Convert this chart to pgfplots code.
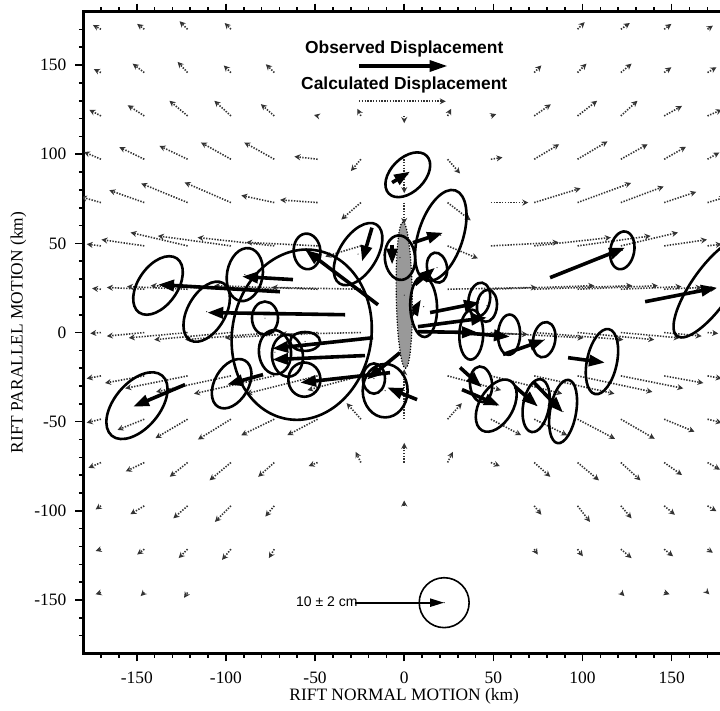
\documentclass[border=0pt]{standalone}
\usepackage{fontspec}
\setmainfont{Liberation Serif}
\setsansfont{Liberation Sans}
\usepackage{pgfplots}
\pgfplotsset{compat=1.18}
\usepackage{pgfplotstable}
\usetikzlibrary{arrows.meta}

% calculated displacement (tail x y, vector u v, km)
\pgfplotstableread{
x y u v
-170.1 170.1 -4.5 2.4
-145.8 170.1 -4 3
-121.5 170.1 -4.5 4.5
-97.2 170.1 -3.5 3.5
97.2 170.1 4 4
121.5 170.1 5 3.5
145.8 170.1 4 3
170.1 170.1 3 2
-170.1 145.8 -4 2
-145.8 145.8 -6.5 5
-121.5 145.8 -5.6 6
-97.2 145.8 -4 4
-72.9 145.8 -4.7 4.7
72.9 145.8 4 4
97.2 145.8 5 5
121.5 145.8 6 5
145.8 145.8 4 3
170.1 145.8 5 3
-170.1 121.5 -6.5 3.4
-145.8 121.5 -9.3 6
-121.5 121.5 -10.2 8.5
-97.2 121.5 -9.3 8.5
-72.9 121.5 -7.5 6.6
-48.6 121.5 -2 0.5
-24.3 121.5 -2 4
0 121.5 0 -4
24.3 121.5 2 4
48.6 121.5 3 1
72.9 121.5 9.3 6.5
97.2 121.5 11 8.5
121.5 121.5 9.3 8.5
145.8 121.5 10 5.6
170.1 121.5 8 3.5
-170.1 97.2 -9.5 4.1
-145.8 97.2 -14 6.8
-121.5 97.2 -15.8 7.5
-97.2 97.2 -16.8 9.4
-72.9 97.2 -16.8 9.4
-48.6 97.2 -13 1.5
-24.3 97.2 -5.6 -6.6
0 97.2 0 -19
24.3 97.2 7 -8
48.6 97.2 6.5 1
72.9 97.2 14 8.4
97.2 97.2 16.8 10
121.5 97.2 15 8.4
145.8 97.2 12.2 7
170.1 97.2 6.6 3.8
-170.1 72.9 -11.2 3.2
-145.8 72.9 -19.6 6.9
-121.5 72.9 -26 10.7
-97.2 72.9 -26 11.3
-72.9 72.9 -18.5 4
-48.6 72.9 -21 1.5
-24.3 72.9 -11 -9.5
0 72.9 0 -12
24.3 72.9 13 -10
48.6 72.9 21 0
72.9 72.9 26 8
97.2 72.9 30 11
121.5 72.9 24 9
145.8 72.9 18 6
170.1 72.9 10 3
-170.1 48.6 -8 1
-145.8 48.6 -24 3.5
-121.5 48.6 -32 7.5
-97.2 48.6 -41 5.6
-72.9 48.6 -43 4.7
-48.6 48.6 -40 2
-24.3 48.6 -20 -6
24.3 48.6 17 -7
48.6 48.6 38 2
72.9 48.6 43 4.7
97.2 48.6 41 5.6
121.5 48.6 32 7.5
145.8 48.6 24 3.5
170.1 48.6 8 1
-170.1 24.3 -5 0.5
-145.8 24.3 -21 1
-121.5 24.3 -34 1.5
-97.2 24.3 -45 2
-72.9 24.3 -55 2
-48.6 24.3 -58 2
-24.3 24.3 -50 1
24.3 24.3 50 1
48.6 24.3 58 2
72.9 24.3 55 2
97.2 24.3 45 2
121.5 24.3 34 1.5
145.8 24.3 21 1
170.1 24.3 5 0.5
-170.1 0 -6 -0.5
-145.8 0 -21 -2
-121.5 0 -33 -3
-97.2 0 -43 -4
-72.9 0 -50 -4
-48.6 0 -52 -3
-24.3 0 -45 -1
24.3 0 45 -1
48.6 0 52 -3
72.9 0 50 -4
97.2 0 43 -4
121.5 0 33 -3
145.8 0 21 -2
170.1 0 6 -0.5
-170.1 -24.3 -8 -1.5
-145.8 -24.3 -22 -4
-121.5 -24.3 -35 -7
-97.2 -24.3 -42 -9
-72.9 -24.3 -45 -10
-48.6 -24.3 -40 -10
-24.3 -24.3 -30 -8
24.3 -24.3 30 -8
48.6 -24.3 40 -10
72.9 -24.3 45 -10
97.2 -24.3 42 -9
121.5 -24.3 35 -7
145.8 -24.3 22 -4
170.1 -24.3 8 -1.5
-170.1 -48.6 -8 -2
-145.8 -48.6 -15 -6
-121.5 -48.6 -18 -10.6
-97.2 -48.6 -18.5 -11.4
-72.9 -48.6 -18.5 -9
-48.6 -48.6 -17 -9
-24.3 -48.6 -8 9
0 -48.6 0 28
24.3 -48.6 8 9
48.6 -48.6 17 -9
72.9 -48.6 18.5 -9
97.2 -48.6 21 -11
121.5 -48.6 19 -11
145.8 -48.6 17 -7
170.1 -48.6 8 -2
-170.1 -72.9 -7 -3
-145.8 -72.9 -10.4 -5
-121.5 -72.9 -10 -8
-97.2 -72.9 -12 -10
-72.9 -72.9 -9 -8
-48.6 -72.9 -5 -2
-24.3 -72.9 -3 6
0 -72.9 0 11
24.3 -72.9 3 6
48.6 -72.9 5 -2
72.9 -72.9 9 -8
97.2 -72.9 12 -10
121.5 -72.9 11 -10
145.8 -72.9 10 -7
170.1 -72.9 7 -4
-170.1 -97.2 -3 -2
-145.8 -97.2 -7.8 -4.7
-121.5 -97.2 -8 -7
-97.2 -97.2 -9 -9
-72.9 -97.2 -5 -6
0 -97.2 0 3
72.9 -97.2 4 -5
97.2 -97.2 7 -9
121.5 -97.2 6 -7
145.8 -97.2 6 -5
170.1 -97.2 5 -3
-170.1 -121.5 -3 -1
-145.8 -121.5 -4 -3
-121.5 -121.5 -5 -5
-97.2 -121.5 -5 -6
-72.9 -121.5 -3 -5
72.9 -121.5 2 -3
97.2 -121.5 3 -4
121.5 -121.5 6 -5
145.8 -121.5 5 -4
170.1 -121.5 3 -2
-170.1 -145.8 -3 -1
-145.8 -145.8 -2 -2
-121.5 -145.8 -2 -3
121.5 -145.8 2 -2
145.8 -145.8 3 -1
170.1 -145.8 1 -1
}\calcdata

% observed displacement (tail x y, vector u v, km)
\pgfplotstableread{
x y u v
-6.8 84.1 10.1 6.2
4.9 50.4 16.9 5.6
-14.7 15.6 -40.9 30.9
-18.1 58.8 -5.6 -19
-6.8 49.3 0 -11.2
6.1 26.9 11.2 9.5
3.3 8.4 6.1 10.1
14.5 11.2 28 5.6
7.7 3.3 38.7 5.1
7.7 0.5 33.7 -0.5
31.3 0 28 -2.3
55.4 -12.3 23.6 8.3
91.9 -14.1 20.7 -2.8
81.8 30.8 42.1 16.8
135.1 17.3 40.3 7.9
31.3 -19.6 12.3 -11.2
32.4 -32 21.3 -9
62.1 -30.3 12.9 -11.2
72.2 -27.5 16.9 -17.4
-122.9 -29.2 -29.2 -12.4
-79.2 -23.6 -20.2 -5.6
-33.2 10 -77.3 1.2
-69.7 22.9 -68.4 4
-62.4 29.7 -28.6 1.7
-17.5 -2.9 -56.6 -6.1
-22 -12.9 -52.1 -2.3
-8 -22.5 -50.4 -5.6
-2.4 -11.3 -18.5 -15.1
7.2 -37.6 -16.8 6.8
}\obsdata

% error ellipses (centre x y, semi-axes a b in km, angle of a)
\pgfplotstableread{
x y a b ang
2 88.5 15 9.5 45
20.5 54.5 26.5 12.5 72
-54.5 45.5 10 7.5 95
-25.9 44 19.5 10.5 58
-2.4 42 12.5 8.5 95
18.4 36.4 8.5 5.6 100
10.9 14.5 17 7.5 92
42.1 18.5 9.6 6 80
46.4 15 9 5.6 85
37.6 -1.2 14 6.7 88
58.8 -1.2 11.3 6.2 88
78.5 -4 10 6.2 80
110.9 -16.3 18.6 8.4 78
122.3 46.1 10.7 6.7 80
172 25 33 11 55
43.1 -29 10 6.2 95
51.6 -41 16 9.5 60
74 -41 15 7.3 80
89.1 -44.3 18 7.3 80
-149.9 -41 22 12.7 50
-96.8 -28.7 15 9.5 60
-57.5 -1.2 48 39 80
-110.8 11.7 18.5 10.6 60
-138.1 26.4 18.5 11 55
-89.4 32.5 15 10 80
-78.1 8.1 9.3 7.3 90
-72.5 -11 12.4 9 95
-65.5 -13 11.8 8.7 95
-55.6 -5 8.4 5.3 0
-56 -26.4 9.6 9 90
-17 -25.8 8.5 6.2 90
-10.7 -32.6 15 12.6 90
}\elldata

\pgfplotstableread{
x y a b ang
0 21 41 4.5 91
}\dikedata

\pgfplotstableread{
x y a b ang
22.4 -151.5 14 14 0
}\scaledata

\newcommand{\kmu}{0.8915pt}
% ellipse path from the visualization values
\newcommand{\ellpath}{\pgfpathellipse{\pgfpointorigin}{\pgfpointpolar{\eang}{\ea*\kmu}}{\pgfpointpolar{\eang+90}{\eb*\kmu}}}

\begin{document}
\begin{tikzpicture}
\path[use as bounding box] (-41.65pt,-28.75pt) rectangle (318.35pt,326.75pt);
\begin{axis}[
  at={(0pt,0pt)}, anchor=south west,
  x=0.8915pt, y=0.8915pt,
  xmin=-180, xmax=180, ymin=-180, ymax=180,
  axis line style={line width=1.3pt},
  xtick={-150,-100,...,150}, ytick={-150,-100,...,150},
  minor xtick={-170,-160,...,170}, minor ytick={-170,-160,...,170},
  tick align=outside,
  major tick length=4pt, minor tick length=2.2pt,
  tick style={line width=0.8pt, black},
  /pgf/number format/assume math mode=true,
  tick label style={font=\fontsize{8.7}{10}\selectfont},
  xticklabel style={yshift=-1.5pt},
  yticklabel style={xshift=-1pt},
  xlabel={RIFT NORMAL MOTION (km)},
  ylabel={RIFT PARALLEL MOTION (km)},
  xlabel style={at={(axis description cs:0.5,-0.066)}, anchor=center, font=\fontsize{8.7}{10}\selectfont},
  ylabel style={at={(axis description cs:-0.101,0.5)}, anchor=center, font=\fontsize{8.7}{10}\selectfont},
  clip=true,
  ellplot/.style={scatter, only marks, mark=*, mark size=0.01pt, mark options={draw=none,fill=none},
    visualization depends on={\thisrow{a} \as \ea},
    visualization depends on={\thisrow{b} \as \eb},
    visualization depends on={\thisrow{ang} \as \eang},
    scatter/@post marker code/.code={}},
]
% calculated displacements
\addplot[quiver={u=\thisrow{u}, v=\thisrow{v}},
  black!80, line width=0.8pt, dash pattern=on 0.7pt off 0.7pt,
  -{Stealth[length=3pt,width=3pt]}]
  table[x=x,y=y] {\calcdata};
% dike
\addplot[ellplot,
  scatter/@pre marker code/.code={\begin{pgfscope}\pgfsetlinewidth{0.6pt}\pgfsetstrokecolor{black}\pgfsetfillcolor{black!40}\pgfsetdash{{0.6pt}{0.8pt}}{0pt}\ellpath\pgfusepath{fill,stroke}\end{pgfscope}}]
  table[x=x,y=y] {\dikedata};
% error ellipses
\addplot[ellplot,
  scatter/@pre marker code/.code={\begin{pgfscope}\pgfsetlinewidth{1.3pt}\pgfsetstrokecolor{black}\ellpath\pgfusepath{stroke}\end{pgfscope}}]
  table[x=x,y=y] {\elldata};
% observed displacements
\addplot[quiver={u=\thisrow{u}, v=\thisrow{v}},
  black, line width=1.8pt, -{Triangle[length=8pt,width=5.5pt]}]
  table[x=x,y=y] {\obsdata};
% legend
\addplot[black, line width=1.7pt, -{Triangle[length=9pt,width=5.5pt]}]
  coordinates {(-25.4,149.5) (24.3,149.5)};
\addplot[black!80, line width=0.8pt, dash pattern=on 0.7pt off 0.7pt, -{Stealth[length=3pt,width=3pt]}]
  coordinates {(-25.4,129.7) (23.3,129.7)};
\node[font=\sffamily\bfseries\fontsize{8.7}{10}\selectfont] at (axis cs:0,159) {Observed Displacement};
\node[font=\sffamily\bfseries\fontsize{8.7}{10}\selectfont] at (axis cs:0,139) {Calculated Displacement};
% scale
\addplot[black, line width=1pt, -{Triangle[length=7pt,width=4pt]}]
  coordinates {(-27.5,-151.5) (22.4,-151.5)};
\addplot[ellplot,
  scatter/@pre marker code/.code={\begin{pgfscope}\pgfsetlinewidth{0.8pt}\pgfsetstrokecolor{black}\ellpath\pgfusepath{stroke}\end{pgfscope}}]
  table[x=x,y=y] {\scaledata};
\node[anchor=east, inner sep=0pt, font=\sffamily\fontsize{7}{8}\selectfont] at (axis cs:-26,-151) {10 ± 2 cm};
\end{axis}
\end{tikzpicture}
\end{document}
